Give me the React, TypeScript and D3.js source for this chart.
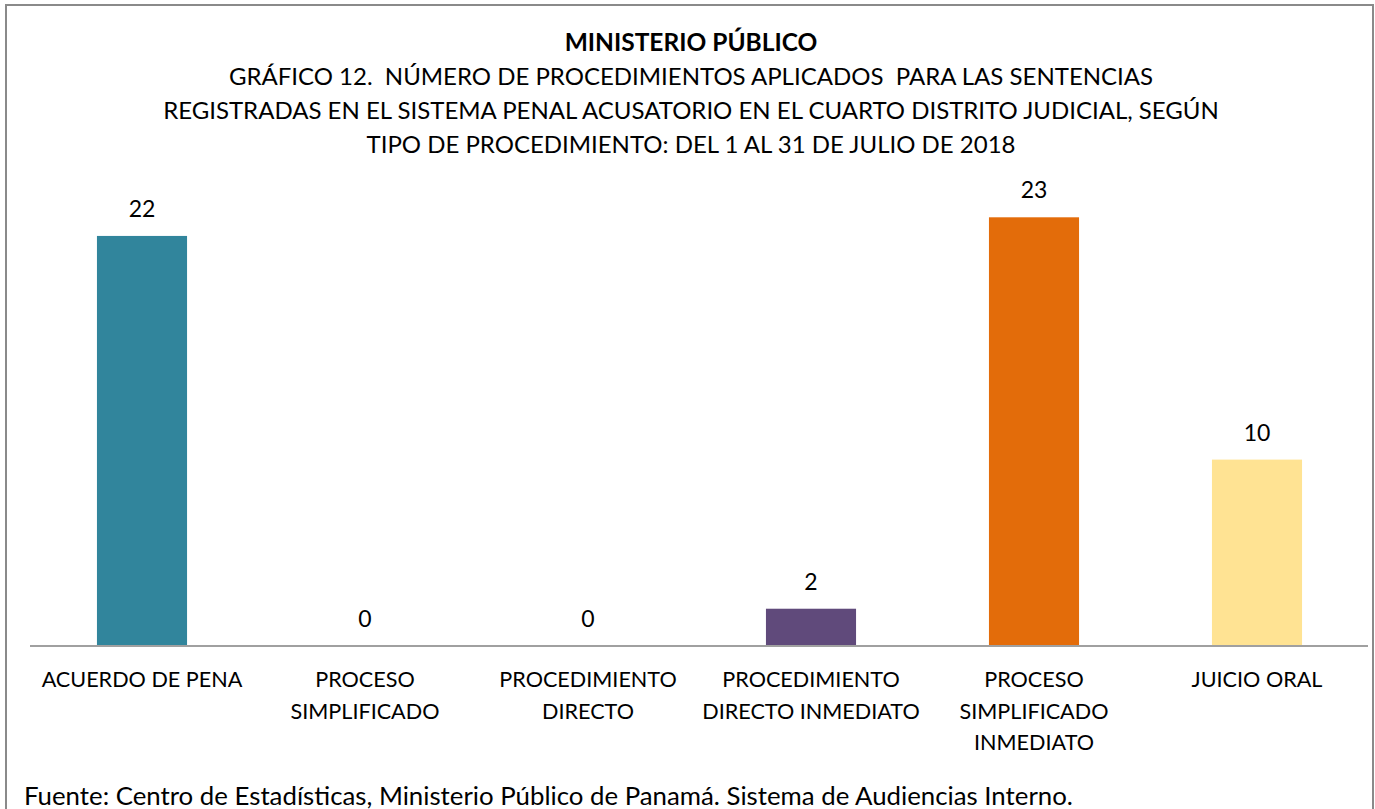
import React from "react";
import * as d3 from "d3";

const categories: string[][] = [
  ["ACUERDO DE PENA"],
  ["PROCESO", "SIMPLIFICADO"],
  ["PROCEDIMIENTO", "DIRECTO"],
  ["PROCEDIMIENTO", "DIRECTO INMEDIATO"],
  ["PROCESO", "SIMPLIFICADO", "INMEDIATO"],
  ["JUICIO ORAL"],
];
const values: number[] = [22, 0, 0, 2, 23, 10];
const colors: string[] = ["#31859C", "#604A7B", "#604A7B", "#604A7B", "#E36C0A", "#FFE393"];
const titleBold = "MINISTERIO PÚBLICO";
const titleLines: string[] = [
  "GRÁFICO 12.  NÚMERO DE PROCEDIMIENTOS APLICADOS  PARA LAS SENTENCIAS",
  "REGISTRADAS EN EL SISTEMA PENAL ACUSATORIO EN EL CUARTO DISTRITO JUDICIAL, SEGÚN",
  "TIPO DE PROCEDIMIENTO: DEL 1 AL 31 DE JULIO DE 2018",
];
const source = "Fuente: Centro de Estadísticas, Ministerio Público de Panamá. Sistema de Audiencias Interno.";

const W = 1375;
const H = 809;
const FONT = "Lato, 'Open Sans', sans-serif";

export default function App() {
  const keys = categories.map((_, i) => String(i));
  const x = d3.scaleBand<string>().domain(keys).range([30.5, 1368.5]).paddingInner(0.596).paddingOuter(0.298);
  const y = d3.scaleLinear().domain([0, 23]).range([646, 217.3]);
  const cx = 691;
  return (
    <div style={{ position: "absolute", left: 0, top: 0, width: W, height: H, background: "#fff" }}>
      <svg width={W} height={H} style={{ display: "block" }} fontFamily={FONT}>
        <rect x={6} y={5} width={1367} height={830} fill="#fff" stroke="#8a8a8a" strokeWidth={2} />
        <text x={cx} y={51} textAnchor="middle" fontWeight="bold" fontSize={24.5} fill="#000">{titleBold}</text>
        {titleLines.map((t, i) => (
          <text key={i} x={cx} y={85 + i * 34} textAnchor="middle" fontSize={24} fill="#000" style={{ whiteSpace: "pre" }}>{t}</text>
        ))}
        {values.map((v, i) => (
          <g key={i}>
            {v > 0 && (
              <rect x={x(String(i))!} y={y(v)} width={x.bandwidth()} height={y(0) - y(v)} fill={colors[i]} />
            )}
            <text x={x(String(i))! + x.bandwidth() / 2} y={y(v) - 19} textAnchor="middle" fontSize={23} fill="#000">{v}</text>
          </g>
        ))}
        <line x1={30} x2={1368} y1={646} y2={646} stroke="#a0a0a0" strokeWidth={2} />
        {categories.map((lines, i) => (
          <text key={i} textAnchor="middle" fontSize={21.6} fill="#000">
            {lines.map((l, j) => (
              <tspan key={j} x={x(String(i))! + x.bandwidth() / 2} y={687 + j * 31.5}>{l}</tspan>
            ))}
          </text>
        ))}
        <text x={24} y={805} fontSize={25.8} fill="#000">{source}</text>
      </svg>
    </div>
  );
}
